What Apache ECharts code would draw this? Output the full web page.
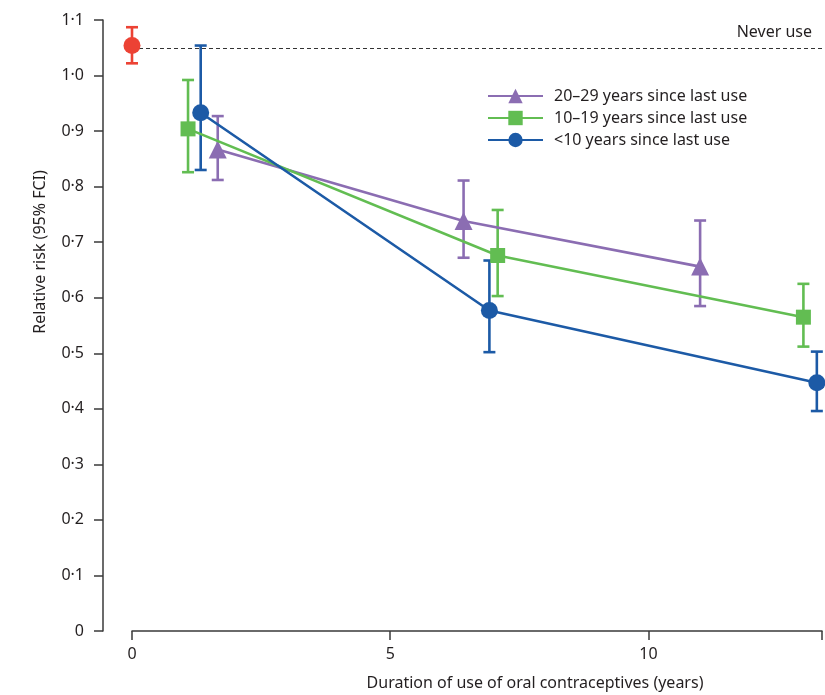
<!DOCTYPE html>
<html><head><meta charset="utf-8">
<script src="https://cdn.jsdelivr.net/npm/echarts@6/dist/echarts.min.js"></script>
<style>html,body{margin:0;padding:0;background:#fff}#c{width:825px;height:695px}</style>
</head><body><div id="c"></div>
<script>
// ---- data ----
const yTicks = ['0','0·1','0·2','0·3','0·4','0·5','0·6','0·7','0·8','0·9','1·0','1·1'];
const xTicks = [0, 5, 10];
const neverX = [0];
const neverRR = [1.054];
const neverLo = [1.022];
const neverHi = [1.087];

const seriesNames = ['20–29 years since last use', '10–19 years since last use', '<10 years since last use'];
const x20 = [1.66, 6.42, 11.0];
const rr20 = [0.867, 0.738, 0.656];
const lo20 = [0.812, 0.672, 0.585];
const hi20 = [0.927, 0.811, 0.739];

const x10 = [1.085, 7.08, 13.0];
const rr10 = [0.904, 0.676, 0.565];
const lo10 = [0.826, 0.603, 0.512];
const hi10 = [0.992, 0.758, 0.625];

const xLt10 = [1.33, 6.92, 13.26];
const rrLt10 = [0.933, 0.577, 0.447];
const loLt10 = [0.830, 0.502, 0.396];
const hiLt10 = [1.054, 0.667, 0.503];

// ---- styling ----
const FONT = 'Noto Sans';
const TXT = '#231f20';
const FS = 16;
const colors = {red:'#ec4234', purple:'#8b6db2', green:'#62bd52', blue:'#1c5aa6'};

function pts(xs, ys){ return xs.map((x,i)=>[x, ys[i]]); }
function errData(xs, lo, hi){ return xs.map((x,i)=>[x, lo[i], hi[i]]); }
function errSeries(xs, lo, hi, color, z){
  return {
    type:'custom', z:z, silent:true, clip:false,
    data: errData(xs, lo, hi),
    encode:{x:0, y:[1,2]},
    renderItem: function(params, api){
      const x = api.value(0);
      const p1 = api.coord([x, api.value(1)]);
      const p2 = api.coord([x, api.value(2)]);
      const hw = 6;
      const st = {stroke: color, lineWidth: 2.6, fill: null};
      return {type:'group', children:[
        {type:'line', shape:{x1:p1[0], y1:p1[1], x2:p2[0], y2:p2[1]}, style:st},
        {type:'line', shape:{x1:p1[0]-hw, y1:p1[1], x2:p1[0]+hw, y2:p1[1]}, style:st},
        {type:'line', shape:{x1:p2[0]-hw, y1:p2[1], x2:p2[0]+hw, y2:p2[1]}, style:st}
      ]};
    }
  };
}
function lineSeries(name, xs, ys, color, symbol, size, z){
  return {
    name:name, type:'line', z:z, clip:false,
    data: pts(xs, ys),
    symbol:symbol, symbolSize:size, showSymbol:true,
    lineStyle:{color:color, width:2.6},
    itemStyle:{color:color, borderWidth:0},
    emphasis:{disabled:true}
  };
}

const chart = echarts.init(document.getElementById('c'), null, {renderer:'canvas'});
chart.setOption({
  animation:false,
  backgroundColor:'#fff',
  textStyle:{fontFamily:FONT},
  grid:{left:132, right:0, top:20, bottom:64, containLabel:false},
  xAxis:{
    type:'value', min:0, max:13.36, interval:5,
    axisLine:{show:true, onZero:false, lineStyle:{color:'#3a3a3a', width:1.5}},
    axisTick:{show:true, length:9, lineStyle:{color:'#3a3a3a', width:1.5}},
    splitLine:{show:false},
    axisLabel:{color:TXT, fontSize:FS, fontFamily:FONT, margin:15,
      formatter: v => (xTicks.indexOf(v) >= 0 ? String(v) : '')}
  },
  yAxis:{
    type:'value', min:0, max:1.1, interval:0.1, offset:29,
    axisLine:{show:true, onZero:false, lineStyle:{color:'#3a3a3a', width:1.5}},
    axisTick:{show:true, length:9, lineStyle:{color:'#3a3a3a', width:1.5}},
    splitLine:{show:false},
    axisLabel:{color:TXT, fontSize:FS, fontFamily:FONT, margin:19,
      formatter: v => yTicks[Math.round(v*10)]}
  },
  legend:{
    orient:'vertical', left:487, top:88, itemGap:6, padding:0,
    itemWidth:55, itemHeight:18,
    data: seriesNames,
    textStyle:{color:TXT, fontSize:FS, fontFamily:FONT, padding:[0,0,0,6]}
  },
  series:[
    errSeries(x20, lo20, hi20, colors.purple, 2),
    errSeries(x10, lo10, hi10, colors.green, 2),
    errSeries(xLt10, loLt10, hiLt10, colors.blue, 2),
    errSeries(neverX, neverLo, neverHi, colors.red, 2),
    lineSeries(seriesNames[0], x20, rr20, colors.purple, 'triangle', 18, 3),
    lineSeries(seriesNames[1], x10, rr10, colors.green, 'rect', 15, 4),
    lineSeries(seriesNames[2], xLt10, rrLt10, colors.blue, 'circle', 17, 5),
    {
      name:'Never use', type:'line', z:6, clip:false,
      data: pts(neverX, neverRR),
      symbol:'circle', symbolSize:17,
      itemStyle:{color:colors.red},
      lineStyle:{width:0},
      markLine:{
        silent:true, symbol:['none','none'],
        lineStyle:{color:'#333', type:[4,3], width:1.2},
        label:{show:true, position:'insideEndTop', formatter:'Never use', color:TXT, fontSize:FS, fontFamily:FONT, distance:[10,7]},
        data:[{yAxis: neverRR[0]}]
      }
    }
  ],
  graphic:[
    {type:'text', x:40, y:252, rotation:Math.PI/2, style:{text:'Relative risk (95% FCI)', fill:TXT, font:FS+'px "'+FONT+'"', textAlign:'center', textVerticalAlign:'middle'}},
    {type:'text', x:535, y:683, style:{text:'Duration of use of oral contraceptives (years)', fill:TXT, font:FS+'px "'+FONT+'"', textAlign:'center', textVerticalAlign:'middle'}}
  ]
});
</script></body></html>
